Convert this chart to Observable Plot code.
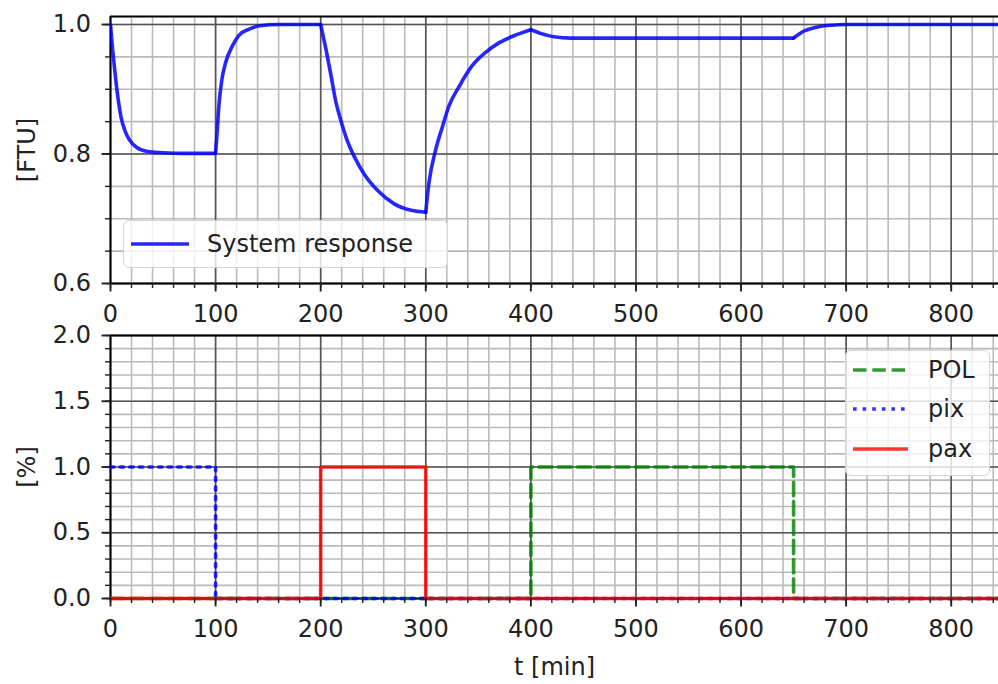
<!DOCTYPE html>
<html>
<head>
<meta charset="utf-8">
<script src="https://cdn.jsdelivr.net/npm/d3@7"></script>
<script src="https://cdn.jsdelivr.net/npm/@observablehq/plot@0.6"></script>
<style>
  html, body { margin: 0; padding: 0; background: white; }
  #wrap { position: relative; width: 998px; height: 684px; overflow: hidden; font-family: "DejaVu Sans", sans-serif; }
  .panel { position: absolute; left: 0; }
  .legend { position: absolute; box-sizing: border-box; border: 1.5px solid #d4d4d4; border-radius: 6px; background: rgba(255,255,255,0.8); font-size: 24px; color: #222; }
  .entry { position: absolute; left: 0; height: 30px; width: 100%; }
  .entry svg { position: absolute; left: 6px; top: 0; }
  .entry span { position: absolute; top: 0; line-height: 30px; }
</style>
</head>
<body>
<div id="wrap">
  <div id="top" class="panel" style="top:0"></div>
  <div id="bottom" class="panel" style="top:320px"></div>
  <div class="legend" style="left:123px;top:220px;width:325px;height:48px;">
    <div class="entry" style="top:8px">
      <svg width="62" height="30"><line x1="1" x2="59" y1="15" y2="15" stroke="blue" stroke-opacity="0.85" stroke-width="3.6"/></svg>
      <span style="left:83px">System response</span>
    </div>
  </div>
  <div class="legend" style="left:845px;top:350px;width:145px;height:126px;">
    <div class="entry" style="top:4px">
      <svg width="62" height="30"><line x1="1" x2="56" y1="15" y2="15" stroke="green" stroke-opacity="0.8" stroke-width="3.6" stroke-dasharray="13.5,5.8"/></svg>
      <span style="left:82px">POL</span>
    </div>
    <div class="entry" style="top:43px">
      <svg width="62" height="30"><line x1="1" x2="56" y1="15" y2="15" stroke="blue" stroke-opacity="0.8" stroke-width="3.6" stroke-dasharray="3.6,6"/></svg>
      <span style="left:82px">pix</span>
    </div>
    <div class="entry" style="top:83px">
      <svg width="62" height="30"><line x1="1" x2="56" y1="15" y2="15" stroke="red" stroke-opacity="0.8" stroke-width="3.6"/></svg>
      <span style="left:82px">pax</span>
    </div>
  </div>
</div>
<script>
// ---- data ----
const respT = [0, 1, 2, 4, 7, 10, 14, 18, 25, 35, 50, 70, 100,
  101.5, 103, 106, 109.5, 116, 122, 132, 142, 160, 200,
  205, 210, 214, 219, 225, 232, 241, 254, 270, 286, 300,
  303, 309.5, 316, 322, 332, 344, 357, 370, 386, 400,
  410, 422, 438, 500, 650, 655, 660, 667, 675, 686, 700, 845];
const respV = [1.0, 0.98, 0.962, 0.93, 0.888, 0.857, 0.835, 0.822, 0.81, 0.804, 0.802, 0.801, 0.801,
  0.835, 0.872, 0.915, 0.941, 0.967, 0.983, 0.993, 0.998, 1.0, 1.0,
  0.962, 0.92, 0.884, 0.853, 0.822, 0.796, 0.77, 0.744, 0.723, 0.713, 0.71,
  0.755, 0.807, 0.843, 0.874, 0.905, 0.936, 0.957, 0.972, 0.984, 0.992,
  0.986, 0.981, 0.979, 0.979, 0.979, 0.985, 0.99, 0.994, 0.997, 0.999, 1.0, 1.0];
// instants where the inputs switch (corners of the response)
const switchT = [0, 100, 200, 300, 400, 650, 845];

const polT = [0, 400, 650, 845];
const polV = [0, 1, 0, 0];
const pixT = [0, 100, 845];
const pixV = [1, 0, 0];
const paxT = [0, 200, 300, 845];
const paxV = [0, 1, 0, 0];

const xMajor = [0, 100, 200, 300, 400, 500, 600, 700, 800];
const xMinor = d3.range(0, 846, 20);
const yTopMajor = [0.6, 0.8, 1.0];
const yTopMinor = [0.6, 0.65, 0.7, 0.75, 0.8, 0.85, 0.9, 0.95, 1.0];
const yBotMajor = [0, 0.5, 1.0, 1.5, 2.0];
const yBotMinor = d3.range(0, 2.001, 0.1);

const X_DOMAIN = [0, 845];
const TOP_DOMAIN = [0.6, 1.0124];

// split the response into smooth segments between switching instants
const resp = [];
for (let s = 0; s < switchT.length - 1; s++) {
  respT.forEach((t, i) => {
    if (t >= switchT[s] && t <= switchT[s + 1]) resp.push({t, v: respV[i], seg: s});
  });
}
const pol = polT.map((t, i) => ({t, v: polV[i]}));
const pix = pixT.map((t, i) => ({t, v: pixV[i]}));
const pax = paxT.map((t, i) => ({t, v: paxV[i]}));

const MINOR = "#bababa", MAJOR = "#555";
const style = {fontFamily: "DejaVu Sans, sans-serif", fontSize: "24px", color: "#222", background: "transparent", overflow: "visible"};
const blank = () => "";

function gridMarks(yMinor, yMajor) {
  return [
    Plot.ruleX(xMinor, {stroke: MINOR, strokeWidth: 1.6}),
    Plot.ruleY(yMinor, {stroke: MINOR, strokeWidth: 1.6}),
    Plot.ruleX(xMajor, {stroke: MAJOR, strokeWidth: 1.6}),
    Plot.ruleY(yMajor, {stroke: MAJOR, strokeWidth: 1.6})
  ];
}

const topPlot = Plot.plot({
  width: 998, height: 320,
  marginLeft: 110, marginRight: 0, marginTop: 16, marginBottom: 37,
  style,
  x: {domain: X_DOMAIN},
  y: {domain: TOP_DOMAIN},
  marks: [
    ...gridMarks(yTopMinor, yTopMajor),
    Plot.ruleY([TOP_DOMAIN[0], TOP_DOMAIN[1]], {stroke: "black", strokeWidth: 1.9}),
    Plot.ruleX([0], {stroke: "black", strokeWidth: 1.9}),
    Plot.line(resp, {x: "t", y: "v", z: "seg", curve: "monotone-x", stroke: "blue", strokeOpacity: 0.85, strokeWidth: 3.6, strokeLinejoin: "miter", clip: true}),
    Plot.axisX(xMinor, {tickSize: 5, strokeWidth: 1.4, tickFormat: blank, label: null}),
    Plot.axisX(xMajor, {tickSize: 8.5, strokeWidth: 1.9, tickPadding: 13, tickFormat: d3.format("d"), label: null}),
    Plot.axisY(yTopMinor, {tickSize: 5, strokeWidth: 1.4, tickFormat: blank, label: null}),
    Plot.axisY(yTopMajor, {tickSize: 8.5, strokeWidth: 1.9, tickPadding: 11, tickFormat: d3.format(".1f"),
      label: "[FTU]", labelAnchor: "center", labelArrow: "none", labelOffset: 93})
  ]
});
document.getElementById("top").appendChild(topPlot);

const bottomPlot = Plot.plot({
  width: 998, height: 364,
  marginLeft: 110, marginRight: 0, marginTop: 15, marginBottom: 86,
  style,
  x: {domain: X_DOMAIN},
  y: {domain: [0, 2]},
  marks: [
    ...gridMarks(yBotMinor, yBotMajor),
    Plot.ruleY([0, 2], {stroke: "black", strokeWidth: 1.9}),
    Plot.ruleX([0], {stroke: "black", strokeWidth: 1.9}),
    Plot.line(pol, {x: "t", y: "v", curve: "step-after", stroke: "green", strokeOpacity: 0.8, strokeWidth: 3.6, strokeDasharray: "13.5,5.8"}),
    Plot.line(pix, {x: "t", y: "v", curve: "step-after", stroke: "blue", strokeOpacity: 0.8, strokeWidth: 3.6, strokeDasharray: "3.6,6"}),
    Plot.line(pax, {x: "t", y: "v", curve: "step-after", stroke: "red", strokeOpacity: 0.8, strokeWidth: 3.6}),
    Plot.axisX(xMinor, {tickSize: 5, strokeWidth: 1.4, tickFormat: blank, label: null}),
    Plot.axisX(xMajor, {tickSize: 8.5, strokeWidth: 1.9, tickPadding: 13, tickFormat: d3.format("d"),
      label: "t [min]", labelAnchor: "center", labelArrow: "none", labelOffset: 76}),
    Plot.axisY(yBotMinor, {tickSize: 5, strokeWidth: 1.4, tickFormat: blank, label: null}),
    Plot.axisY(yBotMajor, {tickSize: 8.5, strokeWidth: 1.9, tickPadding: 11, tickFormat: d3.format(".1f"),
      label: "[%]", labelAnchor: "center", labelArrow: "none", labelOffset: 93})
  ]
});
document.getElementById("bottom").appendChild(bottomPlot);
</script>
</body>
</html>
